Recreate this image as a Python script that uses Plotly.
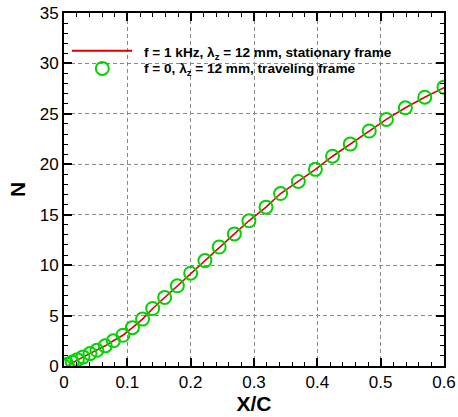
import plotly.graph_objects as go

# Data
x_trav = [0.0, 0.005, 0.013, 0.021, 0.030, 0.041, 0.052, 0.065, 0.078, 0.093,
          0.108, 0.124, 0.140, 0.159, 0.179, 0.200, 0.2225, 0.245, 0.269, 0.292,
          0.319, 0.342, 0.370, 0.397, 0.424, 0.452, 0.482, 0.509, 0.539, 0.5696, 0.600]
n_trav = [0.0, 0.17, 0.40, 0.63, 0.90, 1.23, 1.56, 2.0, 2.5, 3.05,
          3.8, 4.65, 5.7, 6.8, 7.95, 9.2, 10.45, 11.8, 13.1, 14.4,
          15.75, 17.1, 18.3, 19.5, 20.8, 22.0, 23.3, 24.45, 25.6, 26.65, 27.65]

x_stat = [0.007, 0.013, 0.021, 0.030, 0.041, 0.052, 0.065, 0.078, 0.093,
          0.108, 0.124, 0.140, 0.159, 0.179, 0.200, 0.2225, 0.245, 0.269, 0.292,
          0.319, 0.342, 0.370, 0.397, 0.424, 0.452, 0.482, 0.509, 0.539, 0.5696, 0.600]
n_stat = [0.05, 0.30, 0.58, 0.88, 1.22, 1.56, 2.0, 2.5, 3.05,
          3.8, 4.65, 5.7, 6.8, 7.95, 9.2, 10.45, 11.8, 13.1, 14.4,
          15.75, 17.1, 18.3, 19.5, 20.8, 22.0, 23.3, 24.45, 25.6, 26.65, 27.6]

x_ticks = [0, 0.1, 0.2, 0.3, 0.4, 0.5, 0.6]
x_ticklabels = ["0", "0.1", "0.2", "0.3", "0.4", "0.5", "0.6"]
y_ticks = [0, 5, 10, 15, 20, 25, 30, 35]

label_stat = "f = 1 kHz, λ<sub>z</sub> = 12 mm, stationary frame"
label_trav = "f = 0, λ<sub>z</sub> = 12 mm, traveling frame"

RED = "#e00000"
GREEN = "#00d400"
FONT = "Liberation Sans, Arial, Helvetica, sans-serif"

fig = go.Figure()
fig.add_trace(go.Scatter(x=x_stat, y=n_stat, mode="lines",
                         line=dict(color=RED, width=1.6), showlegend=False))
fig.add_trace(go.Scatter(x=x_trav, y=n_trav, mode="markers",
                         marker=dict(symbol="circle-open", size=13,
                                     line=dict(color=GREEN, width=2), color=GREEN),
                         showlegend=False))

axis_common = dict(
    showline=True, linecolor="black", linewidth=2, mirror="allticks",
    ticks="inside", ticklen=8, tickwidth=2, tickcolor="black",
    showgrid=True, gridcolor="#8a8a8a", gridwidth=1, griddash="4px,3px",
    zeroline=False, automargin=False,
    tickfont=dict(family=FONT, size=17, color="black"),
)

fig.update_xaxes(range=[0, 0.6], tickmode="array", tickvals=x_ticks,
                 ticktext=x_ticklabels, tickangle=0,
                 minor=dict(dtick=0.02, ticks="inside", ticklen=4, tickwidth=1,
                            tickcolor="black", showgrid=False),
                 title=dict(text="<b>X/C</b>", font=dict(family=FONT, size=21, color="black"),
                            standoff=0),
                 **axis_common)
fig.update_yaxes(range=[0, 35], tickmode="array", tickvals=y_ticks,
                 minor=dict(dtick=1, ticks="inside", ticklen=4, tickwidth=1,
                            tickcolor="black", showgrid=False),
                 title=dict(text="<b>N</b>", font=dict(family=FONT, size=21, color="black"),
                            standoff=8),
                 **axis_common)

# Manual legend (Tecplot style)
fig.add_shape(type="line", xref="paper", yref="paper",
              x0=0.021, x1=0.179, y0=0.893, y1=0.893,
              line=dict(color=RED, width=2))
fig.add_shape(type="circle", xref="paper", yref="paper",
              xsizemode="pixel", ysizemode="pixel",
              xanchor=0.1008, yanchor=0.843, x0=-6.5, x1=6.5, y0=-6.5, y1=6.5,
              line=dict(color=GREEN, width=2))
fig.add_annotation(xref="paper", yref="paper", x=0.205, y=0.884,
                   xanchor="left", yanchor="middle", showarrow=False,
                   text="<b>" + label_stat + "</b>",
                   font=dict(family=FONT, size=13.6, color="black"))
fig.add_annotation(xref="paper", yref="paper", x=0.205, y=0.841,
                   xanchor="left", yanchor="middle", showarrow=False,
                   text="<b>" + label_trav + "</b>",
                   font=dict(family=FONT, size=13.6, color="black"))

fig.update_layout(
    width=458, height=417,
    margin=dict(l=64, r=14, t=13, b=51),
    paper_bgcolor="white", plot_bgcolor="white",
    showlegend=False,
)

fig.write_html("out.html")
